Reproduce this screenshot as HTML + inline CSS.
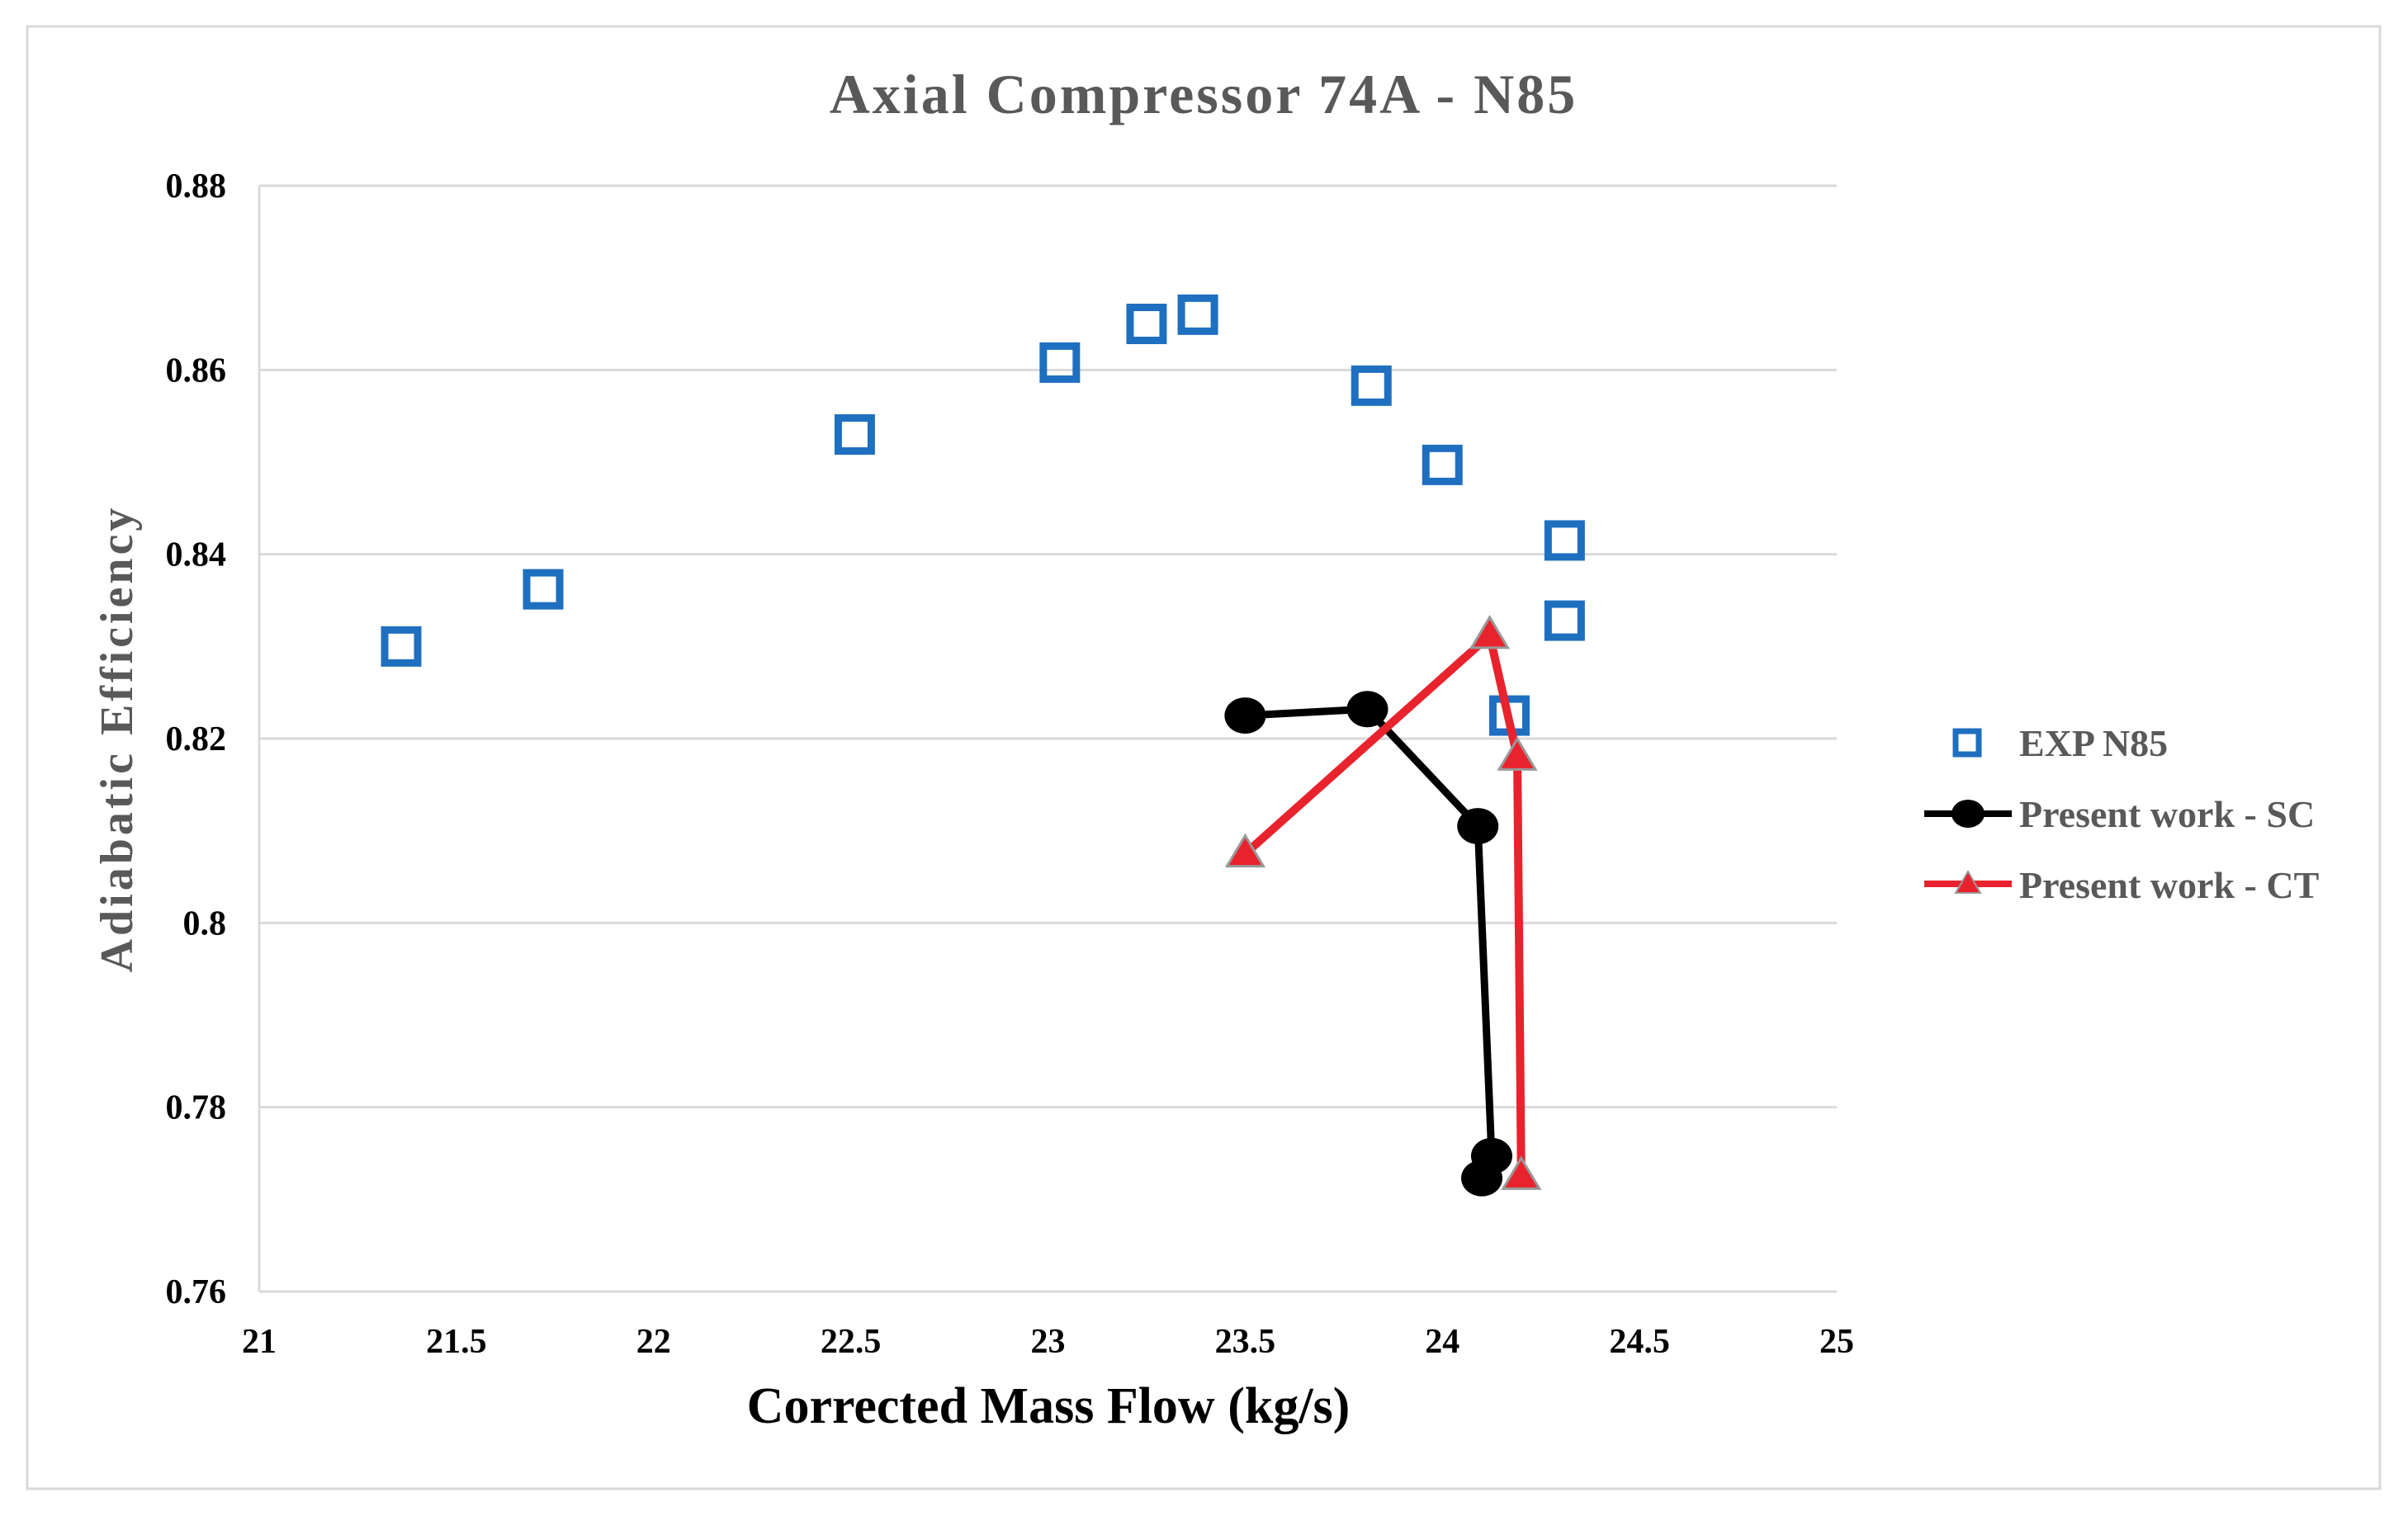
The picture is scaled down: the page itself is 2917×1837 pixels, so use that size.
<!DOCTYPE html>
<html><head><meta charset="utf-8"><style>
html,body{margin:0;padding:0;background:#fff;}
svg{display:block;}
text{font-family:"Liberation Serif",serif;font-weight:bold;}
</style></head><body>
<svg id="chart" width="2917" height="1837" viewBox="0 0 2917 1837">
<rect x="33" y="32" width="2850" height="1772" fill="#fff" stroke="#d9d9d9" stroke-width="3"/>
<text x="1458" y="137" font-size="68" fill="#595959" text-anchor="middle" letter-spacing="3">Axial Compressor  74A - N85</text>
<g id="grid"></g>
<g id="yticks"></g>
<g id="xticks"></g>
<text x="1270" y="1724" font-size="62" fill="#000" text-anchor="middle">Corrected  Mass Flow (kg/s)</text>
<text transform="translate(160,895) rotate(-90)" font-size="56" fill="#595959" text-anchor="middle" letter-spacing="4">Adiabatic Efficiency</text>
<g id="series"></g>
<g>
<g>
<rect x="2369" y="886" width="28" height="28" fill="none" stroke="#1f6fc0" stroke-width="7"/>
<text x="2446" y="916" font-size="46" fill="#595959">EXP N85</text></g>
<g>
<line x1="2331" y1="986" x2="2437" y2="986" stroke="#000" stroke-width="8"/>
<ellipse cx="2384" cy="986" rx="20" ry="17" fill="#000"/>
<text x="2446" y="1002" font-size="46" fill="#595959">Present work - SC</text></g>
<g>
<line x1="2331" y1="1071" x2="2437" y2="1071" stroke="#e8232d" stroke-width="8"/>
<polygon points="2384,1056 2369,1082 2399,1082" fill="#e8232d" stroke="#999" stroke-width="2"/>
<text x="2446" y="1088" font-size="46" fill="#595959">Present work - CT</text></g>
</g>
</svg>
<script>
const xTicks=[21,21.5,22,22.5,23,23.5,24,24.5,25];
const yTicks=[0.76,0.78,0.8,0.82,0.84,0.86,0.88];
const expX=[21.36,21.72,22.51,23.03,23.25,23.38,23.82,24.0,24.31,24.31,24.17];
const expY=[0.830,0.8362,0.853,0.8608,0.865,0.866,0.8583,0.8497,0.8415,0.8328,0.8225];
const scX=[23.50,23.81,24.09,24.125,24.10];
const scY=[0.8225,0.8232,0.8105,0.7747,0.7723];
const ctX=[23.50,24.12,24.19,24.20];
const ctY=[0.8075,0.8312,0.818,0.7725];
const L=314,R=2225,T=225,B=1565;
const sx=v=>L+(v-21)/(25-21)*(R-L);
const sy=v=>B-(v-0.76)/(0.88-0.76)*(B-T);
const NS='http://www.w3.org/2000/svg';
function mk(tag,attrs,parent){const e=document.createElementNS(NS,tag);for(const k in attrs)e.setAttribute(k,attrs[k]);document.getElementById(parent).appendChild(e);return e;}
yTicks.forEach(v=>{
 const g=mk('line',{x1:L,x2:R,y1:sy(v),y2:sy(v),stroke:'#d9d9d9','stroke-width':3},'grid');
 
 
 const t=mk('text',{x:274,y:sy(v)+14,'font-size':42,'text-anchor':'end',fill:'#000'},'yticks');
 t.textContent=String(v);
 
 
});
const ax=mk('line',{x1:L,x2:L,y1:T,y2:B,stroke:'#d9d9d9','stroke-width':3},'grid');


xTicks.forEach(v=>{
 const t=mk('text',{x:sx(v),y:1639,'font-size':42,'text-anchor':'middle',fill:'#000'},'xticks');
 t.textContent=String(v);
 
 
});
expX.forEach((x,i)=>{
 const r=mk('rect',{x:sx(x)-20,y:sy(expY[i])-20,width:40,height:40,fill:'none',stroke:'#1f6fc0','stroke-width':9},'series');
 
 
});
const scp=mk('polyline',{points:scX.map((x,i)=>sx(x)+','+sy(scY[i])).join(' '),fill:'none',stroke:'#000','stroke-width':9},'series');


scX.forEach((x,i)=>{
 const c=mk('ellipse',{cx:sx(x),cy:sy(scY[i]),rx:25,ry:22,fill:'#000'},'series');
 
 
});
const ctp=mk('polyline',{points:ctX.map((x,i)=>sx(x)+','+sy(ctY[i])).join(' '),fill:'none',stroke:'#e8232d','stroke-width':10},'series');


ctX.forEach((x,i)=>{
 const cx=sx(x),cy=sy(ctY[i]);
 const p=mk('polygon',{points:`${cx},${cy-22} ${cx-22},${cy+15} ${cx+22},${cy+15}`,fill:'#e8232d',stroke:'#999','stroke-width':3},'series');
 
 
});
</script>
</body></html>
